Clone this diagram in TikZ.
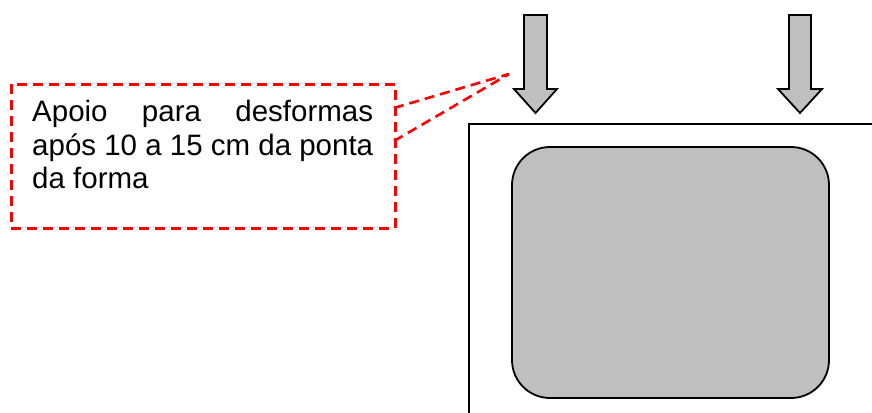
\documentclass[tikz,border=0pt]{standalone}
\usepackage{fontspec}
\setmainfont{Liberation Sans}
\begin{document}
\begin{tikzpicture}[x=1pt,y=-1pt,
  calloutline/.style={draw=red, line width=2.6pt, dash pattern=on 10pt off 6pt},
  loadarrow/.style={draw=black, fill=black!25, line width=1.8pt, line join=miter},
  frame/.style={draw=black, line width=2.6pt},
  section/.style={draw=black, fill=black!25, line width=1.8pt, rounded corners=38pt}]
\useasboundingbox (0,0) rectangle (872,412);
% outer form (clipped by page)
\draw[frame] (469,430) -- (469,124) -- (890,124);
% concrete section
\draw[section] (512,147) rectangle (829,398);
% load arrows
\draw[loadarrow] (524,15) -- (547,15) -- (547,89) -- (557,89) -- (535.5,113) -- (514,89) -- (524,89) -- cycle;
\draw[loadarrow] (789,15) -- (811,15) -- (811,89) -- (822,89) -- (800,113) -- (778,89) -- (789,89) -- cycle;
% callout
\node[calloutline, minimum width=384pt, minimum height=144pt, anchor=north west, inner sep=0] (callout) at (10,83) {};
\node[anchor=base west, inner sep=0] (txt) at (32,121.5) {\parbox[t]{341pt}{\fontsize{29.5}{33.5}\selectfont
Apoio\hfill para\hfill desformas\\
após 10 a 15 cm da ponta\\
da forma}};
\coordinate (tip) at (509,74);
\coordinate (c1) at (394,108);
\coordinate (c2) at (394,141);
\draw[calloutline] (c1) -- (tip);
\draw[calloutline] (c2) -- (tip);
\end{tikzpicture}
\end{document}
